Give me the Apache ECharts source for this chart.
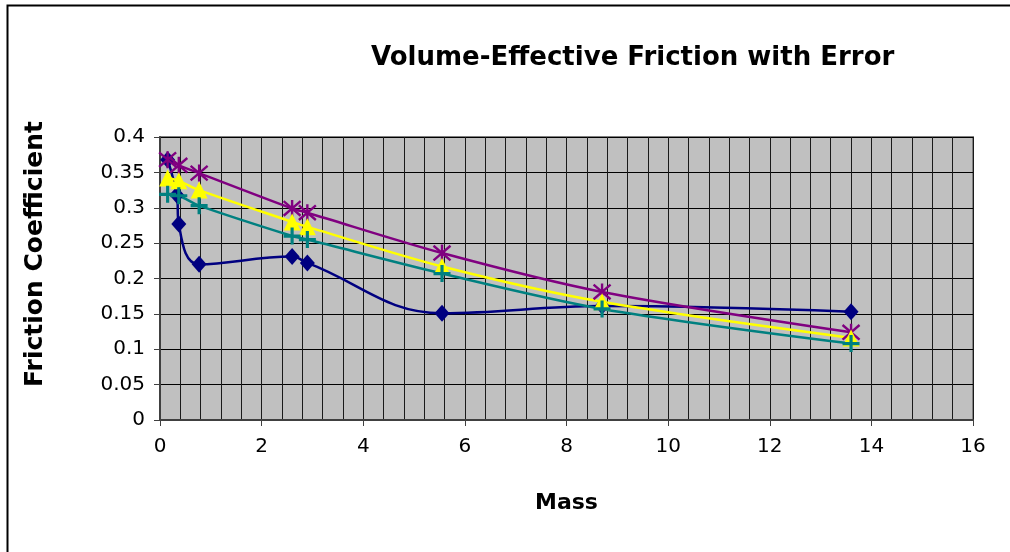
<!DOCTYPE html>
<html>
<head>
<meta charset="utf-8">
<script src="https://cdn.jsdelivr.net/npm/echarts@6/dist/echarts.min.js"></script>
<style>
html,body{margin:0;padding:0;background:#fff;}
#chart{width:1010px;height:552px;}
</style>
</head>
<body>
<div id="chart"></div>
<script>
// Data
const massMeasured = [0.15, 0.33, 0.37, 0.77, 2.6, 2.9, 5.55, 8.7, 13.6];
const frictionMeasured = [0.368, 0.318, 0.277, 0.220, 0.231, 0.222, 0.151, 0.161, 0.153];

const massModel = [0.15, 0.37, 0.77, 2.6, 2.9, 5.55, 8.7, 13.6];
const frictionUpper = [0.368, 0.360, 0.349, 0.299, 0.293, 0.236, 0.181, 0.124];
const frictionModel = [0.342, 0.338, 0.325, 0.280, 0.273, 0.217, 0.167, 0.116];
const frictionLower = [0.319, 0.317, 0.303, 0.260, 0.255, 0.207, 0.157, 0.108];

const titleText = 'Volume-Effective Friction with Error';
const xName = 'Mass';
const yName = 'Friction Coefficient';

function pairs(xs, ys) { return xs.map((x, i) => [x, ys[i]]); }

const FONT = 'DejaVu Sans';
const plusPath = 'path://M-1.3,-7H1.3V-1.3H7V1.3H1.3V7H-1.3V1.3H-7V-1.3H-1.3Z';
const starPath = 'path://M0,-7L0,7M-6,-6L6,6M-6,6L6,-6';

const chart = echarts.init(document.getElementById('chart'), null, {renderer: 'canvas'});
chart.setOption({
  animation: false,
  backgroundColor: '#ffffff',
  title: {
    text: titleText,
    left: 366,
    top: 40,
    textStyle: {fontFamily: FONT, fontWeight: 'bold', fontSize: 26, color: '#000'}
  },
  graphic: [{
    type: 'rect',
    shape: {x: 7.5, y: 5.5, width: 1100, height: 700},
    style: {fill: null, stroke: '#000', lineWidth: 2},
    silent: true
  }, {
    type: 'text',
    x: 35, y: 254,
    rotation: Math.PI / 2,
    style: {
      text: yName, fontFamily: FONT, fontWeight: 'bold', fontSize: 25, fill: '#000',
      align: 'center', verticalAlign: 'middle'
    },
    silent: true
  }],
  grid: {
    left: 160, right: 37, top: 137, bottom: 132,
    show: true, backgroundColor: '#C0C0C0', borderColor: '#808080', borderWidth: 2
  },
  xAxis: {
    type: 'value', min: 0, max: 16, interval: 2,
    name: xName, nameLocation: 'middle', nameGap: 72,
    nameTextStyle: {fontFamily: FONT, fontWeight: 'bold', fontSize: 22, color: '#000'},
    axisLine: {show: true, onZero: false, lineStyle: {color: '#404040', width: 2}},
    axisTick: {show: true, length: 6, lineStyle: {color: '#404040', width: 1}},
    axisLabel: {fontFamily: FONT, fontSize: 20, color: '#000', margin: 17},
    splitLine: {show: true, lineStyle: {color: '#1a1a1a', width: 1}},
    minorTick: {show: false, splitNumber: 5},
    minorSplitLine: {show: true, lineStyle: {color: '#1a1a1a', width: 1}}
  },
  yAxis: {
    type: 'value', min: 0, max: 0.4, interval: 0.05,
    axisLine: {show: true, lineStyle: {color: '#404040', width: 2}},
    axisTick: {show: true, length: 6, lineStyle: {color: '#404040', width: 1}},
    axisLabel: {fontFamily: FONT, fontSize: 20, color: '#000', margin: 15},
    splitLine: {show: true, lineStyle: {color: '#000', width: 1}}
  },
  series: [
    {
      type: 'line', data: pairs(massMeasured, frictionMeasured), smooth: 0.4,
      symbol: 'diamond', symbolSize: [15, 17],
      lineStyle: {color: '#000080', width: 2.5},
      itemStyle: {color: '#000080'}
    },
    {
      type: 'line', data: pairs(massModel, frictionUpper), smooth: 0.3,
      symbol: starPath, symbolSize: 17,
      lineStyle: {color: '#800080', width: 2.5},
      itemStyle: {color: '#800080', borderColor: '#800080', borderWidth: 2.4}
    },
    {
      type: 'line', data: pairs(massModel, frictionModel), smooth: 0.3,
      symbol: 'triangle', symbolSize: [17, 17],
      lineStyle: {color: '#FFFF00', width: 2.5},
      itemStyle: {color: '#FFFF00'}
    },
    {
      type: 'line', data: pairs(massModel, frictionLower), smooth: 0.3,
      symbol: plusPath, symbolSize: 17,
      lineStyle: {color: '#008080', width: 2.5},
      itemStyle: {color: '#008080'}
    }
  ]
});
</script>
</body>
</html>
